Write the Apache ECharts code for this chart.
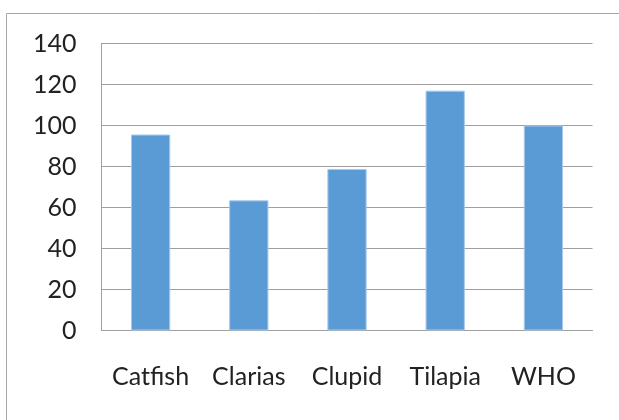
<!DOCTYPE html>
<html>
<head>
<meta charset="utf-8">
<script src="https://cdn.jsdelivr.net/npm/echarts@6/dist/echarts.min.js"></script>
<style>
  html, body { margin: 0; padding: 0; background: #fff; }
  #chart { width: 619px; height: 420px; }
</style>
</head>
<body>
<div id="chart"></div>
<script>
// Fish samples compared against the WHO reference level
const categories = ['Catfish', 'Clarias', 'Clupid', 'Tilapia', 'WHO'];
const values = [95.6, 63.5, 78.8, 117, 100];
const yTicks = [0, 20, 40, 60, 80, 100, 120, 140];

const chart = echarts.init(document.getElementById('chart'), null, { renderer: 'canvas' });
const font = 'Lato, "Open Sans", sans-serif';

chart.setOption({
  animation: false,
  backgroundColor: '#ffffff',
  graphic: [{
    type: 'rect',
    left: 4, top: 11,
    shape: { width: 700, height: 500 },
    style: { fill: 'none', stroke: '#a6a6a6', lineWidth: 1 },
    silent: true
  }],
  grid: { left: 101.5, top: 43.5, right: 26.5, bottom: 89.5, containLabel: false },
  xAxis: {
    type: 'category',
    data: categories,
    axisLine: { show: true, lineStyle: { color: '#a0a0a0', width: 1 } },
    axisTick: { show: false },
    axisLabel: {
      color: '#222', fontFamily: font, fontSize: 25, margin: 34,
      interval: 0, hideOverlap: false
    }
  },
  yAxis: {
    type: 'value',
    min: yTicks[0],
    max: yTicks[yTicks.length - 1],
    interval: yTicks[1] - yTicks[0],
    axisLine: { show: true, lineStyle: { color: '#a0a0a0', width: 1 } },
    axisTick: { show: false },
    splitLine: { show: true, lineStyle: { color: '#a0a0a0', width: 1 } },
    axisLabel: { color: '#222', fontFamily: font, fontSize: 25, margin: 25 }
  },
  series: [{
    type: 'bar',
    data: values,
    barWidth: '40%',
    itemStyle: { color: '#5b9bd5', borderColor: '#a9c9ec', borderWidth: 1 }
  }]
});
</script>
</body>
</html>
